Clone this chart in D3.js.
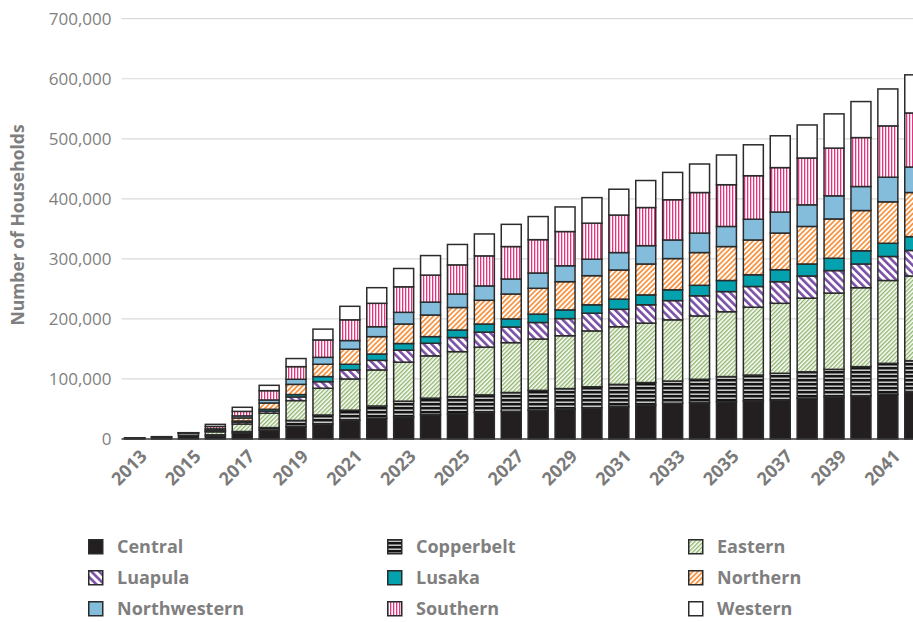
<!DOCTYPE html>
<html><head><meta charset="utf-8">
<script src="https://cdn.jsdelivr.net/npm/d3@7"></script>
<style>body{margin:0;background:#fff;overflow:hidden} svg{display:block;font-family:"Open Sans",sans-serif}</style>
</head><body><svg id="c" width="913" height="622"></svg>
<script>
const years = [2013,2014,2015,2016,2017,2018,2019,2020,2021,2022,2023,2024,2025,2026,2027,2028,2029,2030,2031,2032,2033,2034,2035,2036,2037,2038,2039,2040,2041,2042];
const tickYears = [2013,2015,2017,2019,2021,2023,2025,2027,2029,2031,2033,2035,2037,2039,2041];
const yTicks = [0,100000,200000,300000,400000,500000,600000,700000];
const regions = ["Central","Copperbelt","Eastern","Luapula","Lusaka","Northern","Northwestern","Southern","Western"];

const central      = [1000,2000,6000,4500,10000,15000,20500,25000,31500,34500,37000,40500,42000,44500,46000,48000,50000,52000,54000,56500,59500,60500,62000,63500,65000,68000,70500,72000,74500,79000];
const copperbelt   = [800,1500,3500,2500,2500,4000,10500,15000,16500,20500,26000,27500,28500,29000,31500,33000,34000,35000,37000,37500,37000,39000,42000,43000,44500,44000,45500,48500,51500,51500];
const eastern      = [100,200,600,5000,12500,24000,33000,44500,52000,60000,65000,70500,75000,79500,83000,85500,88000,93000,96000,99000,102000,105500,108000,113000,116500,122500,127000,131500,138000,141000];
const luapula      = [0,0,100,1000,3000,3500,6000,11000,15000,16000,20000,21000,23500,25000,26000,27500,28500,29500,29000,30500,32000,33500,33500,34500,36000,37000,37500,39500,40000,42500];
const lusaka       = [0,0,100,700,2000,3000,4000,8500,9500,10500,11000,11000,12500,13500,13500,14000,14500,14000,17000,16500,18000,17500,18500,19500,20000,20000,20500,22000,22000,23000];
const northern     = [0,0,100,2000,5000,10500,17000,20500,25000,29000,32500,36000,37500,39500,41500,43000,47000,48500,48500,51500,52000,54500,56500,58000,61000,62500,65500,67000,69000,73500];
const northwestern = [0,0,100,1200,3500,5000,8500,11500,14500,16500,19500,21500,22500,24000,25000,25500,26500,27500,29000,30500,31000,32500,33500,34500,35000,36000,38500,40000,41000,42500];
const southern     = [0,0,0,4000,7500,15500,21000,29000,34500,39000,42500,45000,48500,50000,54000,55500,57000,60000,62500,63500,67000,67500,69500,72500,74000,78000,79500,81500,85500,90000];
const western      = [100,200,0,3500,6800,8900,13500,18000,22500,26000,30500,32500,34000,36500,37000,38500,41000,42500,43000,45000,45500,47500,49500,51500,53000,55000,57000,60000,61500,63500];

const series = {Central:central, Copperbelt:copperbelt, Eastern:eastern, Luapula:luapula, Lusaka:lusaka,
  Northern:northern, Northwestern:northwestern, Southern:southern, Western:western};
const rows = years.map((y,i)=>{const r={year:y}; regions.forEach(k=>r[k]=series[k][i]); return r;});

const svg = d3.select("#c");
const defs = svg.append("defs");
function linePat(id, color, bg, size, lw, angle){
  const p = defs.append("pattern").attr("id",id).attr("patternUnits","userSpaceOnUse")
    .attr("width",size).attr("height",size).attr("patternTransform",`rotate(${angle})`);
  p.append("rect").attr("width",size).attr("height",size).attr("fill",bg);
  p.append("rect").attr("x",0).attr("y",0).attr("width",lw).attr("height",size).attr("fill",color);
}
linePat("pEast","#8fb46c","#fff",3.0,1.4,45);
linePat("pLua","#7b4fa6","#fff",5.5,2.6,-45);
linePat("pNorth","#f79646","#fff",3.6,1.8,45);
linePat("pSouth","#e6327f","#fff",3,1.3,0);
{
  const p = defs.append("pattern").attr("id","pCopper").attr("patternUnits","userSpaceOnUse")
    .attr("width",8).attr("height",4);
  p.append("rect").attr("width",8).attr("height",4).attr("fill","#141414");
  p.append("rect").attr("x",0).attr("y",1.5).attr("width",8).attr("height",1.4).attr("fill","#d8d8d8");
}
const fills = {Central:"#231f20", Copperbelt:"url(#pCopper)", Eastern:"url(#pEast)", Luapula:"url(#pLua)",
  Lusaka:"#04a1ae", Northern:"url(#pNorth)", Northwestern:"#84bcdc", Southern:"url(#pSouth)", Western:"#ffffff"};

const x = d3.scaleBand().domain(years).range([121.2, 928.2]).paddingInner(0.257).paddingOuter(0.1285);
const y = d3.scaleLinear().domain([0,700000]).range([439,18.7]);

// gridlines
svg.append("g").selectAll("line").data(yTicks.filter(d=>d>0)).join("line")
  .attr("x1",121.5).attr("x2",913).attr("y1",d=>y(d)).attr("y2",d=>y(d))
  .attr("stroke","#d9d9d9").attr("stroke-width",1.2);

// y axis labels
const yAxis = d3.axisLeft(y).tickValues(yTicks).tickFormat(d3.format(",")).tickSize(0).tickPadding(10);
const ya = svg.append("g").attr("transform","translate(121.5,0)").call(yAxis);
ya.select(".domain").remove();
ya.selectAll("text").attr("fill","#7f7f7f").style("font-size","17px").style("font-family","'Open Sans',sans-serif");

// bars
const stack = d3.stack().keys(regions)(rows);
svg.append("g").selectAll("g").data(stack).join("g")
  .attr("fill",d=>fills[d.key])
  .selectAll("rect").data(d=>d).join("rect")
  .attr("x",d=>x(d.data.year)).attr("width",x.bandwidth())
  .attr("y",d=>y(d[1])).attr("height",d=>Math.max(0,y(d[0])-y(d[1])))
  .attr("stroke","#2b2b2b").attr("stroke-width",1.5);

// baseline
svg.append("line").attr("x1",121.5).attr("x2",913).attr("y1",y(0)).attr("y2",y(0))
  .attr("stroke","#3a3a3a").attr("stroke-width",1.5);

// x axis labels
const xAxis = d3.axisBottom(x).tickValues(tickYears).tickSize(0).tickPadding(0);
const xa = svg.append("g").attr("transform",`translate(0,${y(0)})`).call(xAxis);
xa.select(".domain").remove();
xa.selectAll("text").attr("fill","#7a7a7a").style("font-size","18px").style("font-weight","bold")
  .style("font-family","'Open Sans',sans-serif")
  .attr("text-anchor","end").attr("dy","0.35em").attr("y",0)
  .attr("transform","translate(9,14) rotate(-45)");

// y title
svg.append("text").attr("transform","translate(24,225) rotate(-90)").attr("text-anchor","middle")
  .attr("fill","#7f7f7f").style("font-size","17.5px").style("font-weight","bold").text("Number of Households");

// legend
const colX = [88,387,688], rowY = [539,570,601];
const lg = svg.append("g").selectAll("g").data(regions).join("g")
  .attr("transform",(d,i)=>`translate(${colX[i%3]},${rowY[Math.floor(i/3)]})`);
lg.append("rect").attr("x",0.75).attr("y",0.75).attr("width",14).attr("height",14).attr("fill",d=>fills[d])
  .attr("stroke","#2b2b2b").attr("stroke-width",1.5);
lg.append("text").attr("x",29).attr("y",8).attr("dy","0.35em").attr("fill","#7f7f7f")
  .style("font-size","18px").style("font-weight","bold").text(d=>d);
</script></body></html>
